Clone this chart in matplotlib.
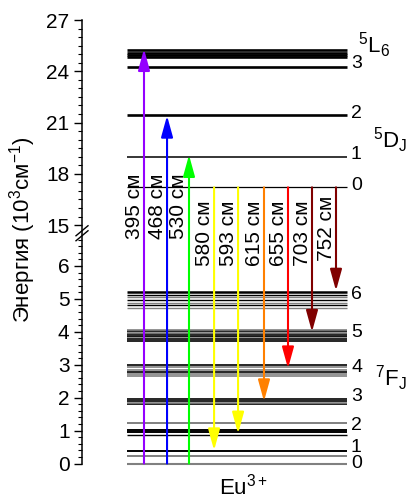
import numpy as np
import matplotlib
matplotlib.use('Agg')
import matplotlib.pyplot as plt
from matplotlib.ticker import FixedLocator, FixedFormatter, NullFormatter
import matplotlib.transforms as mtransforms

plt.rcParams['font.family'] = ['Liberation Sans', 'DejaVu Sans']
plt.rcParams['mathtext.fontset'] = 'custom'
plt.rcParams['mathtext.rm'] = 'Liberation Sans'
plt.rcParams['mathtext.it'] = 'Liberation Sans:italic'
plt.rcParams['mathtext.bf'] = 'Liberation Sans:bold'
plt.rcParams['mathtext.default'] = 'regular'

# ---------------- data (10^3 cm^-1) ----------------
F0 = [0.0]
F1 = [0.22, 0.37]
F2 = [0.86, 0.96, 1.01, 1.22]
F3 = [1.80, 1.85, 1.90, 1.95]
F4 = [2.67, 2.72, 2.79, 2.85, 2.93, 2.99]
F5 = [3.73, 3.78, 3.83, 3.87, 3.92, 3.97, 4.02, 4.07]
F6 = [4.73, 4.81, 4.89, 4.97, 5.05, 5.12, 5.22]
D0 = [17.21]
D1 = [18.96]
D2 = [21.42]
D3 = [24.27]
L6 = [24.82, 24.95, 25.09, 25.25]

wavelengths = [395, 468, 530, 580, 593, 615, 655, 703, 752]
trans_start = [0.0, 0.0, 0.0, 17.21, 17.21, 17.21, 17.21, 17.21, 17.21]
trans_end = [25.30, 21.40, 19.10, 0.40, 0.91, 1.89, 2.89, 4.00, 5.25]
arrow_colors = ['#9400FF', '#0000FF', '#00FF00', '#FFFF00', '#FFFF00',
                '#FF8000', '#FF0000', '#800000', '#800000']

F_numbers = ['0', '1', '2', '3', '4', '5', '6']
F_number_y = [0.0, 0.5, 1.16, 2.05, 2.93, 3.99, 5.13]
D_numbers = ['0', '1', '2', '3']
D_number_y = [17.34, 19.15, 21.55, 24.43]

major_ticks = [0, 1, 2, 3, 4, 5, 6, 15, 18, 21, 24, 27]
major_labels = ['0', '1', '2', '3', '4', '5', '6', '15', '18', '21', '24', '27']

# ---------------- broken scale ----------------
LOW_TOP, UP_BOT = 6.85, 14.8
A, B, GAP = 32.9, 17.08, 9.5
uk = np.array([LOW_TOP * A, LOW_TOP * A + GAP])


def fwd(y):
    y = np.asarray(y, dtype=float)
    return np.where(y <= LOW_TOP, y * A,
                    np.where(y >= UP_BOT, uk[1] + (y - UP_BOT) * B,
                             uk[0] + (y - LOW_TOP) * (GAP / (UP_BOT - LOW_TOP))))


def inv(u):
    u = np.asarray(u, dtype=float)
    return np.where(u <= uk[0], u / A,
                    np.where(u >= uk[1], UP_BOT + (u - uk[1]) / B,
                             LOW_TOP + (u - uk[0]) * ((UP_BOT - LOW_TOP) / GAP)))


W, H = 409, 499
fig = plt.figure(figsize=(W / 100, H / 100), dpi=100)
ax_left, ax_right = 82, 347
ax_top, ax_bot = 20, 463.5
ax = fig.add_axes([ax_left / W, 1 - ax_bot / H, (ax_right - ax_left) / W, (ax_bot - ax_top) / H])
ax.set_yscale('function', functions=(fwd, inv))
ax.set_ylim(0, 27)
px = 24.0  # pixels per x unit
ax.set_xlim((ax_left - 144) / px, (ax_right - 144) / px)

for s in ['top', 'right', 'bottom']:
    ax.spines[s].set_visible(False)
ax.spines['left'].set_linewidth(1.1)
ax.set_xticks([])

minor = list(np.round(np.arange(0, 6.81, 0.2), 2)) + list(np.arange(15, 27.01, 0.5))
ax.yaxis.set_major_locator(FixedLocator(major_ticks))
ax.yaxis.set_major_formatter(FixedFormatter(major_labels))
ax.yaxis.set_minor_locator(FixedLocator(minor))
ax.yaxis.set_minor_formatter(NullFormatter())
ax.tick_params(axis='y', which='major', length=6, width=1.0, labelsize=15, pad=3, direction='out')
ax.tick_params(axis='y', which='minor', length=3, width=0.8, direction='out')

# ---------------- levels ----------------
x0 = (127 - 144) / px
x1 = (347 - 144) / px
BLK, GRY = '#000000', '#808080'
level_sets = [
    (F0, [GRY], [1.5]),
    (F1, [GRY, BLK], [1.4, 1.4]),
    (F2, [BLK, BLK, BLK, GRY], [1.0, 1.4, 1.4, 1.4]),
    (F3, [BLK, GRY, BLK, BLK], [1.2, 1.2, 1.2, 1.2]),
    (F4, [GRY, GRY, BLK, GRY, GRY, BLK], [1.2] * 6),
    (F5, [BLK, BLK, GRY, BLK, BLK, GRY, BLK, GRY], [1.2] * 8),
    (F6, [GRY, BLK, GRY, BLK, GRY, BLK, BLK], [1.0, 1.0, 1.0, 1.0, 1.0, 1.0, 1.8]),
    (D0, [BLK], [0.9]),
    (D1, [BLK], [1.1]),
    (D2, [BLK], [1.9]),
    (D3, [BLK], [1.9]),
    (L6, [BLK] * 4, [1.9] * 4),
]
for vals, cols, lws in level_sets:
    for v, c, lw in zip(vals, cols, lws):
        ax.plot([x0, x1], [v, v], color=c, lw=lw, solid_capstyle='butt', clip_on=False, zorder=2)

# ---------------- arrows ----------------
arrow_x = [0.0, 0.96, 1.875, 2.92, 3.92, 5.0, 6.0, 7.0, 8.0]
trans = mtransforms.blended_transform_factory(ax.transData, ax.transAxes)
label_y = [0.581, 0.581, 0.581, 0.52, 0.52, 0.52, 0.52, 0.52, 0.53]
for x, ys, ye, c, wl, ly in zip(arrow_x, trans_start, trans_end, arrow_colors, wavelengths, label_y):
    ax.annotate('', xy=(x, ye), xytext=(x, ys),
                arrowprops=dict(arrowstyle='-|>,head_length=1.3,head_width=0.36', color=c, lw=1.5,
                                shrinkA=0, shrinkB=0, mutation_scale=10),
                annotation_clip=False, zorder=4)
    ax.text(x - 10 / px, ly, f'{wl} см', rotation=90, ha='center', va='center',
            fontsize=15, transform=trans, zorder=5)

# ---------------- level labels ----------------
xn = (351 - 144) / px
for t, y in zip(F_numbers, F_number_y):
    ax.text(xn, y, t, ha='left', va='center', fontsize=14, clip_on=False)
for t, y in zip(D_numbers, D_number_y):
    ax.text(xn, y, t, ha='left', va='center', fontsize=14, clip_on=False)

ax.text((358 - 144) / px, 25.54, '$^5$L$_6$', ha='left', va='center', fontsize=16, clip_on=False)
ax.text((373 - 144) / px, 19.98, '$^5$D$_J$', ha='left', va='center', fontsize=16, clip_on=False)
ax.text((375 - 144) / px, 2.59, '$^7$F$_J$', ha='left', va='center', fontsize=16, clip_on=False)

ax.text((243 - 144) / px, (ax_bot - 494) / (ax_bot - ax_top), 'Eu$^{3+}$', ha='center', va='baseline',
        fontsize=16, transform=trans)

fig.text(23 / W, 1 - 230 / H, 'Энергия (10$^3$см$^{-1}$)', rotation=90, ha='center', va='center', fontsize=16)

# ---------------- break marks ----------------
ub = (fwd(LOW_TOP) + fwd(UP_BOT)) / 2 / fwd(27)
dx = 6 / (ax_right - ax_left)
dy = 5 / (ax_bot - ax_top)
for off in (-2.5 / (ax_bot - ax_top), 2.5 / (ax_bot - ax_top)):
    ax.plot([-dx, dx], [ub + off - dy, ub + off + dy], color='k', lw=1.0,
            transform=ax.transAxes, clip_on=False, zorder=6)

fig.savefig('out.png', dpi=100)
